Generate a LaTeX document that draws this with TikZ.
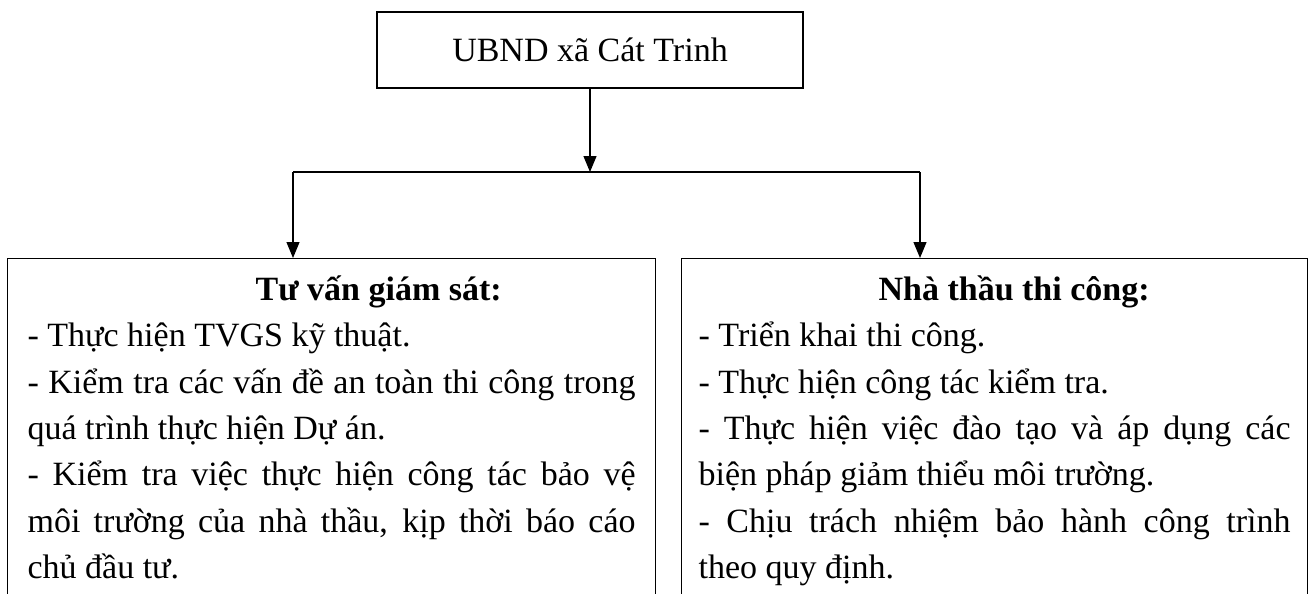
\documentclass[tikz,border=0pt]{standalone}
\usepackage{fontspec}
\setmainfont{Liberation Serif}
\usepackage{tikz}
\usetikzlibrary{arrows.meta}
\hyphenpenalty=10000
\exhyphenpenalty=10000
\tikzstyle{chu} = [font=\fontsize{17pt}{23.15pt}\selectfont]
\tikzstyle{capxa} = [chu, rectangle, draw=black, line width=0.6pt, minimum width=213pt, minimum height=38pt]
\tikzstyle{khung} = [chu, rectangle, draw=black, line width=0.6pt, anchor=north west, align=justify, text height=12pt, text depth=200pt, inner ysep=9pt]
\tikzstyle{arrow} = [line width=0.6pt, -{Triangle[length=8pt,width=6.5pt]}]

\begin{document}
\begin{tikzpicture}[x=0.5pt, y=-0.5pt]
  \useasboundingbox (0,0) rectangle (1312,594);
  \node (ubnd) [capxa] at (590,50) {UBND xã Cát Trinh};
  \node (tvgs) [khung, text width=304pt, inner xsep=10pt] at (7,258) {\hspace*{114pt}\textbf{Tư vấn giám sát:}\\
    - Thực hiện TVGS kỹ thuật.\\
    - Kiểm tra các vấn đề an toàn thi công trong\linebreak
    quá trình thực hiện Dự án.\\
    - Kiểm tra việc thực hiện công tác bảo vệ\linebreak
    môi trường của nhà thầu, kịp thời báo cáo\linebreak
    chủ đầu tư.};
  \node (ntc) [khung, text width=296pt, inner xsep=8.5pt] at (681,258) {\hspace*{90pt}\textbf{Nhà thầu thi công:}\\
    - Triển khai thi công.\\
    - Thực hiện công tác kiểm tra.\\
    - Thực hiện việc đào tạo và áp dụng các\linebreak
    biện pháp giảm thiểu môi trường.\\
    - Chịu trách nhiệm bảo hành công trình\linebreak
    theo quy định.};
  \coordinate (reT) at (293,172);
  \coordinate (reP) at (920,172);
  \draw[arrow](ubnd) -- (ubnd |- reT);
  \draw[line width=0.6pt](reT) -- (reP);
  \draw[arrow](reT) -- (reT |- tvgs.north);
  \draw[arrow](reP) -- (reP |- ntc.north);
\end{tikzpicture}
\end{document}
